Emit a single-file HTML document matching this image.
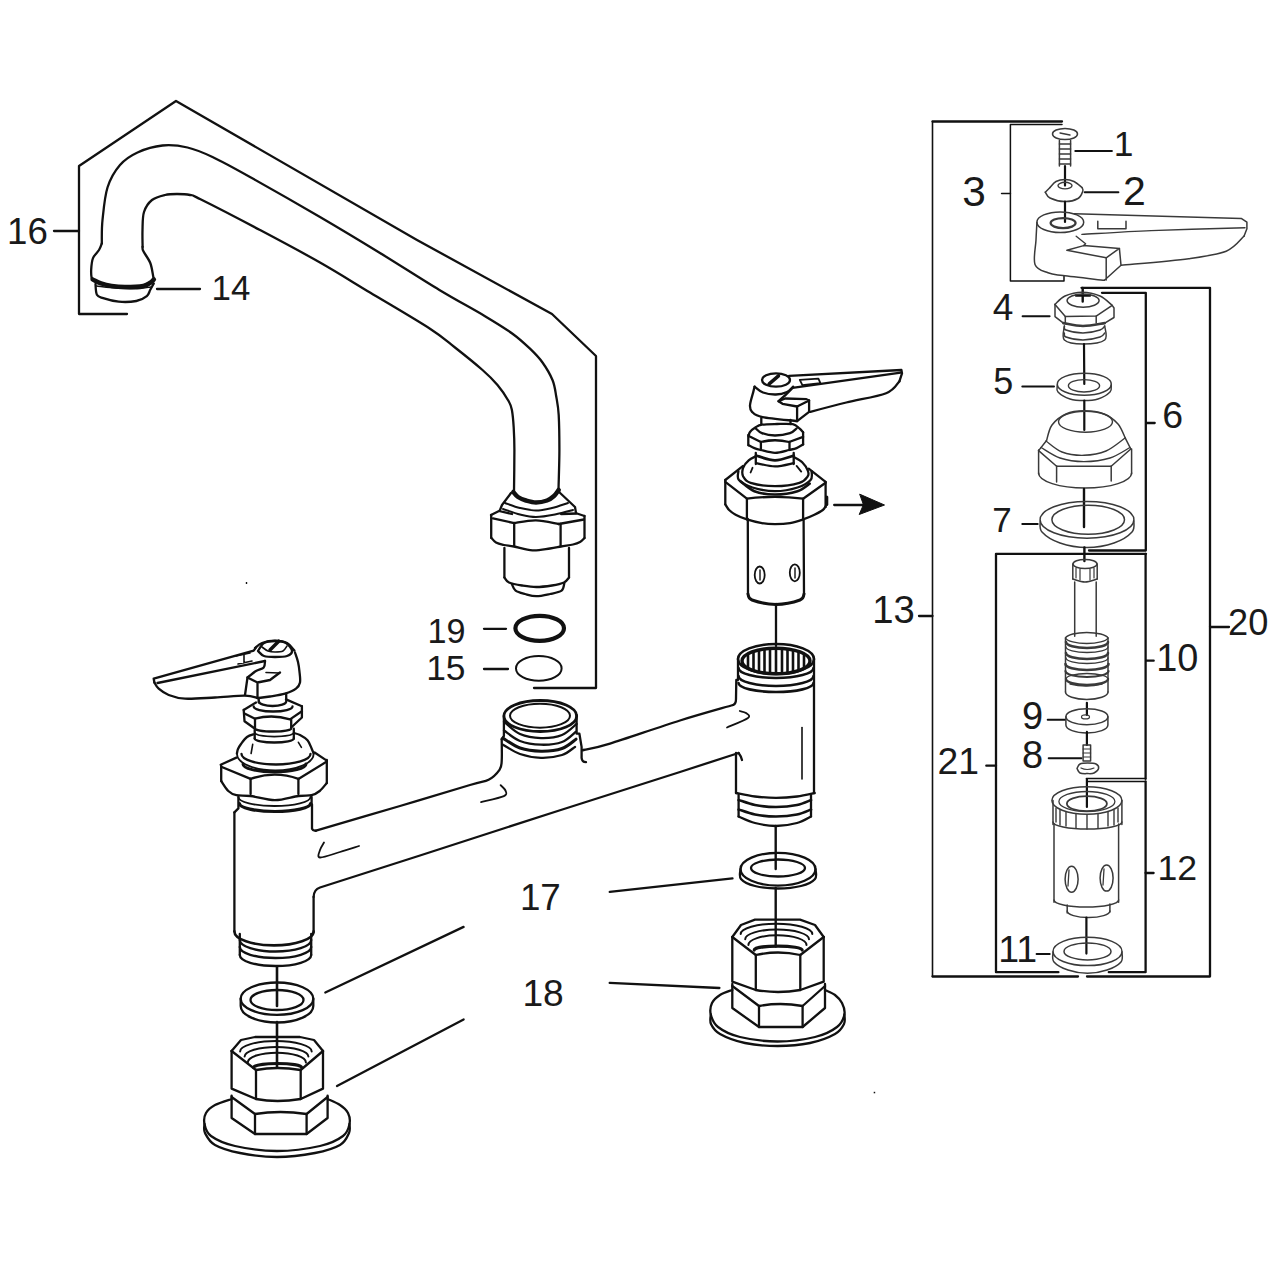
<!DOCTYPE html>
<html><head><meta charset="utf-8">
<style>
html,body{margin:0;padding:0;background:#fff;}
svg{display:block;}
text{font-family:"Liberation Sans",sans-serif;fill:#1a1a1a;stroke:none;}
</style></head><body>
<svg width="1280" height="1280" viewBox="0 0 1280 1280">
<rect width="1280" height="1280" fill="#fff"/>
<g fill="none" stroke="#111" stroke-width="2.3" stroke-linejoin="round" stroke-linecap="round">
<!-- ===== SPOUT 16 ===== -->
<path d="M127,314 L79,314 L79,166 L176,101 L417,240 L552,314 L596,356 L596,688 L534,688"/>
<path d="M54,231 L79,231"/>
<path d="M101.8,243.4 C101.9,239.5 101.5,229.3 102.5,220 C103.5,210.7 104.6,196.7 107.5,187.5 C110.4,178.3 115,170.8 120,165 C125,159.2 130.4,155.8 137.5,152.5 C144.6,149.2 154.2,146.3 162.5,145.5 C170.8,144.7 179.2,145.6 187.5,147.5 C195.8,149.4 202.1,152.1 212.5,157 C222.9,161.9 232.1,167 250,177 C267.9,187 298.3,204.3 320,217 C341.7,229.7 360.1,240.8 380,253 C399.9,265.2 421.9,279.5 439.4,290 C456.9,300.5 472.8,308.9 485,316.2 C497.2,323.5 505,328.3 512.5,333.7 C520,339.1 525,343.9 530,348.7 C535,353.5 538.8,357.3 542.5,362.5 C546.2,367.7 550.2,374.4 552.5,380 C554.8,385.6 555.2,390.4 556.2,396.2 C557.2,402 558.2,406 558.7,415 C559.2,424 559.4,437.5 559.4,450 C559.4,462.5 558.6,483.3 558.5,490"/>
<path d="M142.6,246.9 C142.6,244.1 142.3,235.8 142.5,230 C142.7,224.2 142.4,217 144,212 C145.6,207 148.5,202.8 152,200 C155.5,197.2 160.8,196 165,195 C169.2,194 172.8,194 177,194 C181.2,194 186.2,194.2 190,195 C193.8,195.8 188.3,193.2 200,199 C211.7,204.8 240,219.4 260,230 C280,240.6 301.7,252.1 320,262.5 C338.3,272.9 351.7,281.5 370,292.5 C388.3,303.5 415.8,319.5 430,328.7 C444.2,337.9 446.2,340.6 455,347.5 C463.8,354.4 475.4,363.8 482.5,370 C489.6,376.2 493.1,379.8 497.5,385 C501.9,390.2 506.3,397 508.7,401.2 C511.1,405.4 511.1,405.6 511.9,410 C512.7,414.4 513.3,420.8 513.7,427.5 C514.1,434.2 514.4,439.2 514.4,450 C514.4,460.8 514.1,485 514,492"/>
<path d="M101.8,243.4 C101.3,244.5 100.5,247.6 99,250 C97.5,252.4 94.3,254.9 93,258.1 C91.7,261.3 91.4,266.1 91.2,269.4 C91,272.7 91.3,276 91.6,277.8 C91.8,279.6 92.5,279.6 92.7,280"/>
<path d="M142.6,246.9 C142.7,247.6 142,248.4 143.3,251.1 C144.6,253.8 148.7,258.9 150.3,263 C151.9,267.1 152.5,272.9 153.1,275.7 C153.7,278.5 153.7,279.3 153.8,280"/>
<path d="M95.5,284 C95.7,285.8 95.6,292.3 96.9,294.7 C98.2,297.1 99.6,297 103.2,298.2 C106.8,299.4 113.2,301.2 118.7,301.7 C124.2,302.2 131.6,301.9 136.3,301 C141,300.1 144.5,298 146.8,296.1 C149.1,294.2 149.1,291.9 150.3,289.8 C151.5,287.7 153.2,284.5 153.8,283.4"/>
<path d="M96.5,286 C98.8,286.2 105.2,287.1 110,287.5 C114.8,287.9 120,288.3 125,288.5 C130,288.7 135.8,288.8 140,288.5 C144.2,288.2 148.8,287.2 150.5,287" stroke-width="1.4"/>
<path d="M92.7,279.5 C94.1,280.1 97.8,282.3 101,283.4 C104.2,284.5 107.6,285.4 111.6,286 C115.6,286.6 119.7,287 125,287 C130.3,287 139.1,286.7 143.3,286 C147.5,285.3 148.6,283.8 150.3,282.7 C152.1,281.6 153.2,280 153.8,279.5" stroke-width="4.6"/>
<path d="M157,289 L200,289"/>
<text x="7.0" y="243.6" font-size="36.7">16</text>
<text x="211.5" y="300.0" font-size="34.9">14</text>

<!-- spout nut -->
<path d="M513.3,492 C514.1,492.8 515.9,495.6 518,497 C520.1,498.4 523,499.6 526,500.5 C529,501.4 532.5,502.5 536,502.5 C539.5,502.5 544,501.6 547,500.5 C550,499.4 552,497.8 554,496 C556,494.2 557.9,491 558.7,490" stroke-width="4.5"/>
<path d="M511,493 L502,505 L500,510"/>
<path d="M558,491 L575,507 L576,513"/>
<path d="M505,503 C507.5,503.8 514.8,506.8 520,508 C525.2,509.2 530.7,510.5 536,510.5 C541.3,510.5 546.7,509.2 552,508 C557.3,506.8 565.3,503.8 568,503" stroke-width="2"/>
<path d="M503,509 C505.8,509.9 514.5,513.2 520,514.5 C525.5,515.8 530.2,517 536,517 C541.8,517 548.8,515.7 555,514.5 C561.2,513.3 570,510.8 573,510" stroke-width="2"/>
<path d="M491,515 L499,511 L512,514 M561,514 L577,513.5 L584.5,516"/>
<path d="M493,518.4 L514.2,523.1"/>
<path d="M514.2,523.1 C517.8,522.6 528.6,520.1 536,520.3 C543.4,520.4 554.9,523.4 558.7,524"/>
<path d="M558.7,524 L584,519.5"/>
<path d="M514.2,523 L514.2,546 M560.6,524 L560.6,546"/>
<path d="M491.2,515 L491.2,538 M584.5,516 L584.5,538"/>
<path d="M491.5,538 C492.2,538.8 493.9,541.3 496,542.5 C498.1,543.7 501,544.3 504,545 C507,545.7 509.2,545.6 514,546.5 C518.8,547.4 526.5,550 532.5,550.3 C538.5,550.6 545.2,549.1 550,548.5 C554.8,547.9 557.2,547.2 561,546.5 C564.8,545.8 569.8,545.2 573,544.5 C576.2,543.8 578.1,543.1 580,542 C581.9,540.9 583.8,538.7 584.5,538"/>
<path d="M504.4,548 L504.4,577.5 M569,548 L569,577.5"/>
<path d="M504.4,577.5 C505.2,578.3 506.1,581.2 509,582.5 C511.9,583.8 517.5,584.8 522,585.5 C526.5,586.2 531.2,587 536.2,587 C541.2,587 547.4,586.2 552,585.5 C556.6,584.8 561.2,583.8 564,582.5 C566.8,581.2 568.2,578.3 569,577.5"/>
<path d="M511.9,584 C512.5,585.1 513.4,588.9 515.6,590.6 C517.8,592.3 521.6,593.1 525,594 C528.4,594.9 532,596.2 536.2,596.2 C540.4,596.2 545.8,594.9 550,594 C554.2,593.1 559.2,592.4 561.6,590.6 C564,588.8 563.9,584.3 564.4,583"/>
<!-- ring 19 & washer 15 -->
<ellipse cx="539.7" cy="628.3" rx="24.3" ry="12.5" stroke-width="4.2"/>
<ellipse cx="538.8" cy="668.4" rx="22.8" ry="12.3" stroke-width="2"/>
<path d="M484,628.8 L506,628.8 M484,669 L508,669"/>
<text x="427.4" y="642.7" font-size="34.2">19</text>
<text x="426.2" y="680.3" font-size="35.4">15</text>

<!-- ===== LEFT VALVE ===== -->
<!-- lever -->
<path d="M154.4,682.5 C155.1,683.5 156.3,686.6 158.7,688.7 C161.1,690.8 164.3,693.3 168.7,695 C173.1,696.7 177.3,698.3 185,698.7 C192.7,699.1 205,698 215,697.5 C225,697 237.9,695.5 245,695.6 C252.1,695.7 255.4,697.6 257.5,698"/>
<path d="M153.7,678.7 L154.4,682.5 M153.7,678.7 L253.7,650.6 L256,647.5"/>
<path d="M157.5,683 L265,661"/>
<path d="M236,656 L250,653 M238,664 L252,661 M244,655 L244,663" stroke-width="1.6"/>
<!-- cap -->
<path d="M255,648 C256.2,647.2 258.7,644.2 262,643 C265.3,641.8 270.8,640.6 275,640.6 C279.2,640.6 283.8,641.3 287,643 C290.2,644.7 293.2,649.3 294.4,650.6"/>
<path d="M258,651 C259,651.8 261.2,655 264,656 C266.8,657 271.2,657 275,657 C278.8,657 284.2,657 287,656 C289.8,655 292.2,653.2 292,651 C291.8,648.8 288.8,644.7 286,643 C283.2,641.3 278.7,641 275,641 C271.3,641 266.8,641.3 264,643 C261.2,644.7 259,649.7 258,651"/>
<path d="M262,647 C263,647.7 265.8,650.2 268,651 C270.2,651.8 272.5,652 275,652 C277.5,652 281,652 283,651 C285,650 286.3,646.8 287,646" stroke-width="1.6"/>
<path d="M270,650 L278.7,641.2" stroke-width="3.5"/>
<!-- body -->
<path d="M295,652.5 C295.5,654.1 297.3,658.9 298,662 C298.7,665.1 299.1,667.6 299.4,671 C299.7,674.4 300.6,679.5 300,682.5 C299.4,685.5 298.5,686.8 296,688.7 C293.5,690.6 289.3,692.4 285,693.7 C280.7,695 274.4,695.8 270,696.5 C265.6,697.2 260.6,697.8 258.7,698"/>
<path d="M265,661 C264.8,662.1 265.2,665.8 263.7,667.5 C262.2,669.2 258.7,669.3 256,671 C253.3,672.7 248.9,676.4 247.5,677.5"/>
<path d="M247.5,677.5 L257.5,682.5 L270,680 L280,672.5 M247.5,677.5 L245,695 M257.5,682.5 L257.5,698"/>
<path d="M266,672.5 L279.4,673" stroke-width="1.6"/>
<!-- stem -->
<path d="M258.7,698 L258.7,702.5 M286.2,693.7 L286.2,700"/>
<path d="M259,701.5 A13.6,4.5 0 0 0 286.2,701.5"/>
<!-- small nut -->
<path d="M243.7,710 L256,702.5 M286,699.4 L301.9,706.2"/>
<path d="M253.7,706.5 A19.4,5 0 0 0 292.5,706.5"/>
<path d="M245,713.7 L255,718.7 M255,718.7 Q272.5,714 290,719.4 L301.9,711.2"/>
<path d="M243.7,710 L244.5,721.2 L255,728.7 M301.9,706.2 L301.9,717.5 L291.2,727.5"/>
<path d="M255,718.7 L255,728.7 M291.2,719.4 L291.2,727.5"/>
<path d="M255,728.5 A18.1,3 0 0 0 291.2,728.5"/>
<!-- collar -->
<path d="M254.7,730 L254.7,738.7 M293.8,728.7 L293.8,738.7"/>
<path d="M254.7,738.5 A19.55,4 0 0 0 293.8,738.5"/>
<path d="M255,733 A19.4,4 0 0 0 293.6,733" stroke-width="1.6"/>
<!-- dome -->
<path d="M254.7,734 C253.4,734.5 249.3,735.3 247,737 C244.7,738.7 242.5,742 241,744 C239.5,746 238.7,747.4 238,749 C237.3,750.6 237.1,752.8 236.9,753.5"/>
<path d="M293.8,733 C294.8,733.3 297.7,733.8 300,735 C302.3,736.2 305.6,738.1 307.5,740.3 C309.4,742.5 310.6,746.2 311.6,748.4 C312.6,750.6 313.3,752.6 313.6,753.5"/>
<path d="M241.5,754 A34.5,10.5 0 0 0 310.5,754"/>
<path d="M237,754 A38.3,16.5 0 0 0 313.6,754" stroke-width="1.8"/>
<path d="M243,764 A31.5,8 0 0 0 306,764" stroke-width="3"/>
<path d="M252.7,744.4 L251.1,753.5" stroke-width="1.6"/>
<path d="M298.4,742.3 L301.4,747.4" stroke-width="1.6"/>
<!-- big hex nut -->
<path d="M220.7,764.7 L236.4,757.6 M314.6,752.5 L326.8,760.6"/>
<path d="M221.2,766.7 L250.6,778.9"/>
<path d="M250.6,778.9 Q275,770.5 298.4,778.9"/>
<path d="M298.4,778.9 L326.8,761.6"/>
<path d="M250.6,779 L250.6,794 M298.4,779 L298.4,794"/>
<path d="M221.2,766 L221.2,781 M326.8,760 L326.8,783"/>
<path d="M221.2,781 C222.4,782.7 225.8,788.6 228.3,791 C230.8,793.4 232.7,794.4 236.4,795.2 C240.1,796 244.2,795.2 250.6,796 C257,796.8 267,800.2 275,800.2 C283,800.2 292.3,796.8 298.4,796 C304.5,795.2 308.1,796 311.6,795.2 C315.2,794.4 317.2,793 319.7,791 C322.2,789 325.6,784.3 326.8,783"/>
<!-- threads -->
<path d="M238.4,797 A36,9 0 0 0 310.5,797" stroke-width="1.8"/>
<path d="M239.5,803.5 A35.5,8 0 0 0 310.5,803.5" stroke-width="3.2"/>
<path d="M238.4,797 L238.4,808.4 L234.4,812.4 M311.6,797 L311.6,804.3"/>

<!-- ===== MAIN BODY ===== -->
<!-- left body verticals -->
<path d="M234.4,812.4 L234.4,931.6 M313.6,897 L313.6,932.7"/>
<path d="M312,804.3 L312,828.7 Q313,831 316,830.7"/>
<!-- crossbar upper edge left -> inlet -->
<path d="M316,830.7 C330,826.6 374.3,813.6 400,806 C425.7,798.4 455.2,789.4 470,785 C484.8,780.6 483.7,782.2 488.6,779.7 C493.5,777.2 497.3,772.9 499.5,769.8 C501.7,766.7 501.3,766.2 501.7,761.1 C502.1,756 501.7,742.9 501.7,739.2"/>
<!-- crossbar upper right of inlet -->
<path d="M582.7,750.2 C587.2,749.1 593.8,748.6 610,743.6 C626.2,738.6 659.5,726.9 680,720.5 C700.5,714.1 724.2,707.6 733,705"/>

<!-- lower crossbar line -->
<path d="M313.6,897 Q313.8,889.5 320,887.5 L420,855.5 L560.8,810 L680,772 L738.6,753"/>
<path d="M738.6,753 Q741,756 742,760"/>
<!-- highlights -->
<path d="M324,842.5 C323.3,843.8 320.7,847.5 320,850 C319.3,852.5 316.7,857.2 320,857.5 C323.3,857.8 333.5,853.9 340,852 C346.5,850.1 355.8,847 359,846" stroke-width="1.8"/>
<path d="M500.6,785.2 C501.4,786.1 504.9,788.8 505.5,790.6 C506.1,792.4 508,794.2 503.9,796.1 C499.8,798 484.8,801.1 481,802.1" stroke-width="1.8"/>
<path d="M727,727.5 C730.5,725.9 744.8,720.4 748,718 C751.2,715.6 747.4,714.2 746,713 C744.6,711.8 740.8,711.3 739.8,711" stroke-width="1.8"/>
<path d="M802,727.5 L802,779" stroke-width="1.6"/>
<!-- center inlet -->
<ellipse cx="540.3" cy="716" rx="36.4" ry="15.5" stroke-width="2.8"/>
<ellipse cx="540" cy="715.7" rx="30" ry="12" stroke-width="2"/>
<path d="M504,721.7 C506.7,723.8 513.8,731.3 520,734 C526.2,736.7 534,737.9 541,738.1 C548,738.3 556.1,737.4 562,735 C567.9,732.6 574.2,725.8 576.6,723.9"/>
<path d="M504,730.5 C506.7,732.2 513.8,738.6 520,741 C526.2,743.4 534,744.5 541,744.7 C548,744.9 556.2,744.2 562,742 C567.8,739.8 573.7,733.3 576,731.6"/>
<path d="M503,738.1 C505.8,739.8 513.7,745.8 520,748 C526.3,750.2 534,751.1 541,751.2 C548,751.3 556.2,750.5 562,748.5 C567.8,746.5 573.7,740.8 576,739.2" stroke-width="3"/>
<path d="M503,744.7 C505.8,746.2 513.7,751.8 520,754 C526.3,756.2 534,757.6 541,757.8 C548,758 556.3,756.8 562,755 C567.7,753.2 572.8,748.2 575,746.9"/>
<path d="M503.9,716 L503.9,736 L501.7,739.2 M576.6,715 L576.6,733.7 L579.4,733.7 L581.6,746.9 L581.6,757.8 Q582,762 586,762.2"/>
<path d="M582.7,750.2 L584,750"/>

<!-- ===== RIGHT VALVE ===== -->
<!-- cap -->
<ellipse cx="776" cy="380" rx="14" ry="6.7"/>
<path d="M769.2,383.9 L778.5,375.9" stroke-width="3.5"/>
<path d="M754.6,386.6 C756,387.6 759.5,391.2 763,392.5 C766.5,393.8 771.9,394.6 775.9,394.5 C779.9,394.4 784.1,393.3 787,392 C789.9,390.7 792.1,387.5 793.1,386.6"/>
<!-- body -->
<path d="M754.6,386.6 C754.4,387.5 754.1,388.8 753.3,391.9 C752.5,395 750.2,401.9 750,405.2 C749.8,408.5 749.9,409.8 752,411.8 C754.1,413.8 755.1,415.6 762.6,417.1 C770.1,418.7 791.4,420.4 797.1,421.1"/>
<path d="M797.1,421.1 L809.1,411.8"/>
<!-- lever -->
<path d="M789.1,375.9 L901.4,370 L902,373.3 L899.4,381.3"/>
<path d="M899.4,381.3 C897.2,383.3 895,389.7 886.1,393.2 C877.2,396.7 858.9,399.4 846.3,402.5 C833.7,405.6 816.4,410.2 810.4,411.8"/>
<path d="M792.5,387.9 L900.7,372.6"/>
<path d="M792.5,387.9 Q785,396 778.5,401.2"/>
<path d="M799.8,379.9 L818.4,378.6 L820.4,383.2 L802.4,385.2 Z" stroke-width="1.8"/>
<!-- block -->
<path d="M778.5,401.2 L785.2,398.5 L806.4,399.2 L809.1,400.5 L797.1,406.5 L782.5,403.8 Z"/>
<path d="M797.1,406.5 L797.1,421.1 M809.1,400.5 L809.1,411.8"/>
<!-- stem -->
<path d="M761.3,418 L761.3,423.7 M790.5,420 L790.5,424"/>
<!-- small nut -->
<path d="M748.7,436 C748.9,435.3 748.9,433.4 750,432 C751.1,430.6 753.3,428.7 755.3,427.5 C757.3,426.3 758.3,425.3 761.9,424.7 C765.5,424.1 771.9,424.1 777,424 C782.1,423.9 789.1,423.5 792.8,424.2 C796.5,424.9 797.7,427.1 799.4,428.4 C801.1,429.7 802.5,431.6 803.1,432.2"/>
<path d="M803.1,432.2 L803.1,444.4 M748.3,435 L748.3,445.3"/>
<path d="M755.3,428 C756.4,428.9 758.6,431.9 761.9,433.1 C765.2,434.4 770.3,435.5 775,435.5 C779.7,435.5 786.4,434.3 790,433.1 C793.6,431.9 795.5,429.2 796.6,428.4"/>
<path d="M748.7,436 L760.9,442 Q775,438.5 789.1,442 L803.1,436.9"/>
<path d="M760.9,442 L760.9,450 M789.5,442 L789.5,450"/>
<path d="M748.7,445.3 C749.7,445.8 752.4,447.3 754.4,448.1 C756.4,448.9 757.5,449.2 760.9,450 C764.3,450.8 770.3,452.8 775,452.8 C779.7,452.8 785.5,450.8 789.1,450 C792.7,449.2 794.3,449 796.6,448.1 C798.9,447.2 802,445 803.1,444.4"/>
<!-- collar -->
<path d="M755.8,452.8 L755.8,464 M793.7,452.8 L793.7,464"/>
<path d="M756.2,455.6 C759.3,456.4 768.8,460.3 775,460.3 C781.2,460.3 790.6,456.4 793.7,455.6" stroke-width="2.8"/>
<path d="M756.2,463.1 C759.3,463.7 768.8,466.4 775,466.4 C781.2,466.4 790.6,463.7 793.7,463.1"/>
<!-- dome -->
<path d="M793.7,457 C795.1,457.9 799.9,459.9 802.2,462.2 C804.6,464.5 806.9,468.3 807.8,470.6 C808.7,472.9 809.2,474.2 807.8,476.2 C806.4,478.2 804.9,481.1 799.4,482.8 C793.9,484.5 783.1,486.1 775,486.1 C766.9,486.1 755.9,484.5 750.6,482.8 C745.3,481.1 744.4,478.7 743.1,476.2 C741.9,473.7 742.2,470.4 743.1,467.8 C744,465.2 746.5,462.2 748.7,460.3 C750.9,458.4 755,456.8 756.2,456.1"/>
<path d="M738.4,471.1 C738.5,472.6 736.5,477.3 738.9,480 C741.2,482.7 746.5,485.6 752.5,487.5 C758.5,489.4 767.5,491.2 775,491.2 C782.5,491.2 791.6,489.4 797.5,487.5 C803.4,485.6 808.2,482.7 810.6,480 C813,477.3 811.4,472.6 811.6,471.1"/>
<path d="M740.3,481 C742.6,482.7 748.6,488.9 754.4,491.2 C760.2,493.4 767.8,494.5 775,494.5 C782.2,494.5 791.7,493 797.5,491.2 C803.3,489.4 807.7,484.9 809.7,483.7" stroke-width="2.6"/>
<path d="M752.5,467.8 L750.6,472.5 M796.6,465.9 L801.2,471.6" stroke-width="1.8"/>
<!-- big hex nut -->
<path d="M725.3,480 L743.1,465.9 M808.7,468.7 L825.6,481.9"/>
<path d="M725.3,481.9 L746.9,498.7 Q775,495 803.1,498.7 L825.6,482.8"/>
<path d="M746.9,498.7 L746.9,519.4 M803.1,498.7 L803.1,519.4"/>
<path d="M725.3,480 L725.3,504.4 M825.6,481.9 L825.6,507.2"/>
<path d="M826.8,497 L826.8,504.4" stroke-width="3"/>
<path d="M725.3,504.4 C725.9,505.3 727.4,508.3 729.1,510 C730.8,511.7 732.6,513.1 735.6,514.7 C738.6,516.3 742.5,518 746.9,519.4 C751.3,520.8 757.2,522.3 761.9,523.1 C766.6,523.9 770.3,524.1 775,524.1 C779.7,524.1 785.3,523.9 790,523.1 C794.7,522.3 799,520.8 803.1,519.4 C807.2,518 811.1,516.3 814.4,514.7 C817.7,513.1 820.9,511.4 822.8,510 C824.7,508.6 825.1,506.8 825.6,506.2"/>
<!-- cartridge -->
<path d="M747.8,519 L748,594 M803.6,519 L804,594"/>
<path d="M748,594 C748.7,595 747.3,598.3 752,600 C756.7,601.7 768,604.4 776,604.4 C784,604.4 795.3,601.7 800,600 C804.7,598.3 803.3,595 804,594" stroke-width="3"/>
<ellipse cx="759.7" cy="575" rx="5" ry="8.5" stroke-width="1.8"/>
<ellipse cx="794.8" cy="572.8" rx="5" ry="8.5" stroke-width="1.8"/>
<path d="M760,570 L760,580 M795,568 L795,578" stroke-width="1.4"/>
<!-- arrow -->
<path d="M834.2,505 L864,505"/>
<path d="M860,494.3 L884.5,505 L859.2,514.5 L863.3,505 Z" fill="#111" stroke-width="1"/>
<!-- centerline -->
<path d="M776,604 L776,646"/>
<!-- right body -->
<defs><clipPath id="cpR"><ellipse cx="776" cy="661" rx="33" ry="12"/></clipPath></defs>
<g clip-path="url(#cpR)" stroke-width="2.6">
<path d="M748,645 L748,680 M753.5,645 L753.5,680 M759,645 L759,680 M764.5,645 L764.5,680 M770,645 L770,680 M776,640 L776,680 M782,645 L782,680 M787.5,645 L787.5,680 M793,645 L793,680 M798.5,645 L798.5,680 M804,645 L804,680"/>
</g>
<ellipse cx="776" cy="659" rx="38" ry="15" stroke-width="2.6"/>
<ellipse cx="776" cy="661" rx="34" ry="12.8" stroke-width="3.4"/>
<path d="M738.5,668 A37.5,10 0 0 0 813.5,668" stroke-width="2.6"/>
<path d="M738.5,676 A37.5,10 0 0 0 813.5,676" stroke-width="2.6"/>
<path d="M738.5,683 A37.5,9 0 0 0 813.5,683" stroke-width="2.6"/>
<path d="M738,659 L738,680 L736.3,680 L736,699 Q736,704 733,705"/>
<path d="M814,659 L814,793"/>
<path d="M736,753 L736,793"/>
<path d="M736,793 C739.2,793.6 748.3,795.7 755,796.5 C761.7,797.3 769,797.8 776,797.8 C783,797.8 790.5,797.3 797,796.5 C803.5,795.7 811.8,793.6 814.7,793"/>
<path d="M738.6,800 C741.3,800.8 748.8,803.8 755,805 C761.2,806.2 769,807 776,807 C783,807 791.2,806.2 797,805 C802.8,803.8 808.7,800.8 811,800" stroke-width="2.6"/>
<path d="M738.6,809.5 C741.3,810.3 748.8,813.3 755,814.5 C761.2,815.7 769,816.5 776,816.5 C783,816.5 791.2,815.7 797,814.5 C802.8,813.3 808.7,810.3 811,809.5" stroke-width="2.6"/>
<path d="M738.6,816.5 C741.3,817.6 748.8,821.4 755,823 C761.2,824.6 769,826 776,826 C783,826 791.2,824.6 797,823 C802.8,821.4 808.7,817.6 811,816.5"/>
<path d="M738.6,795 L738.6,816.5 M811,795 L811,816.5"/>

<!-- ===== LEFT BOTTOM ===== -->
<path d="M234.4,931.4 A39.6,14 0 0 0 313.6,931.4" stroke-width="2.6"/>
<path d="M239.8,940 A35.7,11.5 0 0 0 311.2,940" stroke-width="2.4"/>
<path d="M239.8,947 A35.7,11 0 0 0 311.2,947" stroke-width="2.4"/>
<path d="M239.8,955 A35.7,11 0 0 0 311.2,955"/>
<path d="M239.8,934 L239.8,955 M311.2,934 L311.2,955"/>
<path d="M277,967 L277,1006" stroke-width="2.6"/>
<!-- washer -->
<ellipse cx="277" cy="998.7" rx="36.3" ry="16.2"/>
<ellipse cx="277" cy="1000" rx="26.5" ry="10"/>
<path d="M240.7,998.7 L240.7,1006 A36.3,16.5 0 0 0 313.3,1006 L313.3,998.7"/>
<path d="M277,1022 L277,1067" stroke-width="2.6"/>
<!-- nut -->
<path d="M231.6,1051 L241,1040 L255,1037 L300,1037 L314,1040 L323,1051"/>
<g id="thrL">
<path d="M240.1,1051.4 A35.8,10.3 0 0 1 311.7,1051.4" stroke-width="2"/>
<path d="M244.6,1056.6 A31.9,9.7 0 0 1 308.4,1056.6" stroke-width="2"/>
<path d="M247.8,1062.4 A29,9.7 0 0 1 305.9,1062.4" stroke-width="2"/>
<path d="M253.6,1067.5 A24,4 0 0 1 301.6,1067.5" stroke-width="3.2"/>
</g>
<path d="M231.6,1051 L256,1070 Q277,1066 300.7,1070 L323,1051"/>
<path d="M256,1070 L256,1099 M300.7,1070 L300.7,1099"/>
<path d="M231.6,1051 L231.6,1088.6 L256,1099 Q277,1103 300.7,1099 L323,1088.6 L323,1051"/>
<!-- base hex -->
<path d="M231.6,1095.6 L231.6,1118 L255,1134 L306.6,1134 L327.6,1118 L327.6,1095.6"/>
<path d="M255,1114 L255,1134 M306.6,1114 L306.6,1134"/>
<path d="M231.6,1097 L255,1114 Q280,1110 306.6,1114 L327.6,1097"/>
<!-- flange -->
<path d="M231.6,1099 C228.8,1100 219.3,1102.7 215,1105 C210.7,1107.3 207.8,1109.8 206,1113 C204.2,1116.2 203.7,1120.2 204.5,1124 C205.3,1127.8 205.9,1132.3 211,1136 C216.1,1139.7 224,1143.5 235,1146 C246,1148.5 262.8,1151 277,1151 C291.2,1151 309,1148.5 320,1146 C331,1143.5 338.1,1139.7 343,1136 C347.9,1132.3 348.7,1127.8 349.5,1124 C350.3,1120.2 349.6,1116.2 348,1113 C346.4,1109.8 343.4,1107.3 340,1105 C336.6,1102.7 329.7,1100 327.6,1099"/>
<path d="M204.5,1124 C204.6,1125.5 203.2,1129.5 205,1133 C206.8,1136.5 209.2,1141.7 215,1145 C220.8,1148.3 229.7,1151 240,1153 C250.3,1155 264.5,1157 277,1157 C289.5,1157 304.5,1155 315,1153 C325.5,1151 334.3,1148.3 340,1145 C345.7,1141.7 347.4,1136.5 349,1133 C350.6,1129.5 349.4,1125.5 349.5,1124"/>
<!-- leaders/center lines -->
<path d="M325.3,992.5 L463.6,926.9"/>
<path d="M337,1086 L463.6,1019.4"/>
<!-- ===== RIGHT BOTTOM ===== -->
<path d="M775.7,826 L775.7,869" stroke-width="2.4"/>
<ellipse cx="778" cy="869.2" rx="37.5" ry="16.4"/>
<ellipse cx="778" cy="868" rx="27" ry="8.5"/>
<path d="M740.5,869.2 C740.6,870.8 738.6,876.2 741,879 C743.4,881.8 748.8,884.4 755,886 C761.2,887.6 770.3,888.5 778,888.5 C785.7,888.5 794.8,887.6 801,886 C807.2,884.4 812.6,881.8 815,879 C817.4,876.2 815.4,870.8 815.5,869.2"/>
<path d="M775.7,888 L775.7,946.6" stroke-width="2.4"/>
<!-- nut -->
<path d="M732.3,937 L741,925 L755,919.6 L800,919.6 L815,925 L823.7,937"/>
<use href="#thrL" transform="translate(500.6,-117.4)"/>
<path d="M732.3,937 L755.8,955 Q778,950 800.3,955 L823.7,937"/>
<path d="M755.8,955 L755.8,990 M800.3,955 L800.3,990"/>
<path d="M732.3,937 L732.3,981.7 L755.8,990 Q778,994 800.3,990 L823.7,981.7 L823.7,937"/>
<!-- base hex -->
<path d="M732.3,984 L732.3,1008 L759,1027 L802.6,1027 L825,1008 L825,984"/>
<path d="M759,1006 L759,1027 M802.6,1006 L802.6,1027"/>
<path d="M732.3,986 L759,1006 Q780,1002 802.6,1006 L825,986"/>
<!-- flange -->
<path d="M732.3,990 C730.2,990.8 723.4,992.8 720,995 C716.6,997.2 713.5,999.8 712,1003 C710.5,1006.2 709.8,1010.5 710.8,1014.5 C711.8,1018.5 713.1,1023.2 718,1027 C722.9,1030.8 730.1,1034.6 740,1037 C749.9,1039.4 765.1,1041.5 777.6,1041.5 C790.1,1041.5 805.1,1039.4 815,1037 C824.9,1034.6 832.1,1030.8 837,1027 C841.9,1023.2 843.6,1018.5 844.4,1014.5 C845.2,1010.5 843.6,1006.2 842,1003 C840.4,999.8 837.8,997.2 835,995 C832.2,992.8 826.7,990.8 825,990"/>
<path d="M710.8,1014.5 C710.8,1016.1 709.5,1020.8 711,1024 C712.5,1027.2 714.3,1030.8 720,1034 C725.7,1037.2 735.4,1041 745,1043 C754.6,1045 766.8,1046 777.6,1046 C788.4,1046 800.4,1045 810,1043 C819.6,1041 829.3,1037.2 835,1034 C840.7,1030.8 842.4,1027.2 844,1024 C845.6,1020.8 844.3,1016.1 844.4,1014.5"/>
<!-- leaders 17/18 -->
<path d="M609.7,891.9 L732.5,878.4"/>
<path d="M609.7,982.8 L719.4,988"/>
<text x="519.9" y="909.7" font-size="36.8">17</text>
<text x="522.4" y="1005.9" font-size="37.2">18</text>

<!-- ===== RIGHT PANEL BRACKETS ===== -->
<path d="M1062,121.5 L932.5,121.5 M932.5,976.5 L1078,976.5 M1087,976.5 L1210,976.5 L1210,287.8 L1081.5,287.8"/>
<path d="M932.5,121.5 L932.5,976.5" stroke-width="1.6"/>
<path d="M919,616 L932.5,616 M1210,627 L1229,627"/>
<path d="M1062,124.6 L1010.4,124.6 L1010.4,281 L1064,281 L1064,276" stroke-width="1.5"/>
<path d="M1001.6,193.5 L1010.4,193.5" stroke-width="1.6"/>
<path d="M1102,292.8 L1145.8,292.8 L1145.8,550.5 L1089,550.5 M1145.8,423 L1154.7,423"/>
<path d="M1146,553.8 L996,553.8 L996,972.2 L1058.4,972.2 M1108.8,972.2 L1145.6,972.2 L1145.6,781.5"/>
<path d="M1145.6,781.5 L1086.9,781.5" stroke-width="1.5"/>
<path d="M986.3,765.7 L996,765.7 M1145.6,873 L1153.6,873"/>
<path d="M1145.6,553.8 L1145.6,778.9 M1145.6,660.7 L1153.7,660.7"/>
<path d="M1145.6,778.6 L1086.4,778.6" stroke-width="1.5"/>
<!-- leaders -->
<path d="M1075.3,151 L1111.9,151 M1084.7,192.2 L1118.4,192.2 M1022.6,316.3 L1049.6,316.3 M1022.3,386.4 L1054,386.4 M1022.3,524 L1037.7,524 M1047.7,719.8 L1065,719.8 M1048.7,758.2 L1081.5,758.2 M1036.6,954 L1049.7,954" stroke-width="2"/>
<!-- labels -->
<text x="1113.7" y="155.6" font-size="35.4">1</text>
<text x="1122.9" y="204.7" font-size="41.0">2</text>
<text x="962.2" y="205.7" font-size="42.4">3</text>
<text x="992.8" y="319.5" font-size="37.1">4</text>
<text x="993.3" y="394.1" font-size="36.0">5</text>
<text x="1162.3" y="428.2" font-size="37.5">6</text>
<text x="992.3" y="532.4" font-size="35.1">7</text>
<text x="872.2" y="622.6" font-size="38.3">13</text>
<text x="1228.1" y="634.8" font-size="36.2">20</text>
<text x="1156.3" y="670.5" font-size="37.9">10</text>
<text x="1022.1" y="729.0" font-size="38.0">9</text>
<text x="937.6" y="774.2" font-size="37.3">21</text>
<text x="1022.1" y="767.7" font-size="38.0">8</text>
<text x="1157.5" y="879.7" font-size="35.7">12</text>
<text x="998.2" y="961.7" font-size="37.5">11</text>

<!-- ===== PANEL PARTS ===== -->
<g stroke-width="1.5" stroke="#3a3a3a">
<!-- screw 1 -->
<ellipse cx="1065" cy="134" rx="12.5" ry="5.6"/>
<path d="M1060,133 L1070,135" stroke-width="1.3"/>
<path d="M1059.4,140.6 L1059.4,166 M1070.6,140.6 L1070.6,166"/>
<path d="M1059.4,144 L1070.6,144 M1059.4,149 L1070.6,149 M1059.4,154 L1070.6,154 M1059.4,159 L1070.6,159 M1059.4,164 L1070.6,164" stroke-width="1.4"/>
<path d="M1065,166 L1065,185.6" stroke-width="2.2" stroke="#111"/>
<!-- washer 2 -->
<path d="M1050,187.5 C1051,186.5 1053.5,182.8 1056,181.5 C1058.5,180.2 1062,179.6 1065,179.6 C1068,179.6 1071.2,180.2 1074,181.5 C1076.8,182.8 1080.7,186.5 1082,187.5"/>
<path d="M1045.3,192.2 C1046.1,193.2 1046.7,196.4 1050,198 C1053.3,199.6 1060.3,201.5 1065,201.6 C1069.7,201.7 1075,200.2 1078,198.5 C1081,196.8 1082.1,193 1082.8,191.2 C1083.5,189.4 1082.1,188.1 1082,187.5"/>
<path d="M1045.3,192.2 L1050,187.5"/>
<ellipse cx="1065" cy="185.6" rx="7" ry="3.3" stroke-width="1.4"/>
<path d="M1065,201.6 L1065,222" stroke-width="2.2" stroke="#111"/>
<!-- handle 3 -->
<ellipse cx="1060.3" cy="222.2" rx="23.4" ry="10.3"/>
<ellipse cx="1063.1" cy="223.1" rx="12.5" ry="5" stroke-width="2.2"/>
<path d="M1036.9,222.5 C1036.8,225.4 1036.3,233 1036,240 C1035.7,247 1033,258.9 1035,264.4 C1037,269.9 1043.3,270.9 1048,272.8 C1052.7,274.7 1053.6,274.4 1063,275.6 C1072.4,276.9 1097.5,279.5 1104.4,280.3"/>
<path d="M1074.4,213.7 L1241.2,218.4 L1246.9,222.2 L1246.9,228.7 L1244,236.2"/>
<path d="M1244,236.2 C1241,238.7 1235.4,247.4 1226.2,251.2 C1217,254.9 1206.2,256.3 1188.7,258.7 C1171.2,261.1 1132.5,264.2 1121.2,265.3"/>
<path d="M1081.9,234.4 C1093.5,233.8 1124,231.7 1151.2,230.6 C1178.4,229.5 1229.4,228.3 1245,227.8" stroke-width="1.4"/>
<path d="M1097.8,221.2 L1097.8,228.7 L1126,228.7 L1126,221.2"/>
<path d="M1066.9,250.3 L1083.7,245.6 L1119.4,248.4 L1106.2,257.8 Z"/>
<path d="M1106.2,257.8 L1106.2,280 M1119.4,248.4 L1121,265.3 L1104.4,280.3"/>
<path d="M1076.2,236.2 L1085.6,243.7 L1083.7,245.6" stroke-width="1.4"/>
<!-- nut 4 -->
<path d="M1082.7,288 L1082.7,301.6 M1076,295.5 L1090,295.5" stroke-width="2.4" stroke="#111"/>
<path d="M1055,304.4 C1056.7,303 1060.5,298 1065,296 C1069.5,294 1076.4,292.2 1082.2,292.2 C1088,292.2 1095,293.8 1100,296 C1105,298.2 1110.2,303.8 1112.2,305.3"/>
<ellipse cx="1083.1" cy="300.6" rx="16" ry="6.6"/>
<path d="M1055,304.4 L1065.3,316.6 L1096.2,316.1 L1112.2,305.3 L1114,308 L1114,317.5 L1104.7,323.1"/>
<path d="M1055,304.4 L1055,316.6 L1063.4,323.1"/>
<path d="M1065.3,316.6 L1065.3,323 M1096.2,316.1 L1096.2,323"/>
<path d="M1063.4,323.1 C1066.7,323.6 1076.1,326 1083,326 C1089.9,326 1101.1,323.6 1104.7,323.1" stroke-width="2.6"/>
<path d="M1064.4,326 C1064.7,326.7 1062.9,328.8 1066,330 C1069.1,331.2 1077.3,333 1083,333 C1088.7,333 1096.4,331.2 1100,330 C1103.6,328.8 1103.9,326.7 1104.7,326"/>
<path d="M1064.4,333 C1064.7,333.7 1062.9,335.8 1066,337 C1069.1,338.2 1077.3,340 1083,340 C1088.7,340 1096.4,338.2 1100,337 C1103.6,335.8 1103.9,333.7 1104.7,333"/>
<path d="M1064.4,326 C1064.4,328.3 1061.3,337 1064.4,340 C1067.5,343 1076.3,344 1083,344 C1089.7,344 1101.1,343 1104.7,340 C1108.3,337 1104.7,328.3 1104.7,326"/>
<path d="M1084,344 L1084.3,384" stroke-width="2.2" stroke="#111"/>
<!-- washer 5 -->
<ellipse cx="1084.3" cy="384.2" rx="27" ry="11"/>
<ellipse cx="1084" cy="385.8" rx="15.6" ry="6.2" stroke-width="1.4"/>
<path d="M1057.3,385 C1057.4,386.2 1055.9,389.7 1058,392 C1060.1,394.3 1065.7,397.6 1070,399 C1074.3,400.4 1079.3,400.6 1084,400.6 C1088.7,400.6 1093.7,400.4 1098,399 C1102.3,397.6 1107.8,394.3 1110,392 C1112.2,389.7 1111,386.2 1111.2,385"/>
<path d="M1084.3,400.6 L1084.3,430" stroke-width="2.2" stroke="#111"/>
<!-- cap nut 6 -->
<path d="M1046.4,441.2 C1047.3,438.5 1048.7,429.5 1052,425 C1055.3,420.5 1060.7,416.4 1066,414 C1071.3,411.6 1077.7,410.8 1084,410.8 C1090.3,410.8 1098.3,411.8 1104,414 C1109.7,416.2 1114.5,420 1118,424 C1121.5,428 1124.1,435.8 1125.3,438.1"/>
<ellipse cx="1085.5" cy="421.7" rx="27" ry="10.5" stroke-width="1.4"/>
<path d="M1046,441 C1048.7,442.8 1055.7,449.6 1062,452 C1068.3,454.4 1076.7,455.5 1084,455.3 C1091.3,455.1 1099.2,453.9 1106,451 C1112.8,448.1 1121.8,440.2 1125,438" stroke-width="1.4"/>
<path d="M1041,447.5 C1044.2,449.2 1052.8,455.6 1060,458 C1067.2,460.4 1075.7,461.6 1084,461.6 C1092.3,461.6 1102.3,460.4 1110,458 C1117.7,455.6 1126.7,449.2 1130,447.5" stroke-width="1.4"/>
<path d="M1038.6,450.6 L1046,441.2 M1125.3,438.1 L1130.8,449"/>
<path d="M1038.6,450.6 L1056.6,466.2 L1111.2,466.2 L1130.8,449"/>
<path d="M1056.6,466 L1056.6,481.9 M1111.2,466 L1111.2,481.1 M1038.6,450 L1038.6,474 M1131.6,449 L1131.6,474"/>
<path d="M1038.6,473 A46.5,15 0 0 0 1131.6,473"/>
<path d="M1084,489 L1084,527" stroke-width="2.4" stroke="#111"/>
<!-- washer 7 -->
<ellipse cx="1087" cy="519.8" rx="46.9" ry="18.4"/>
<ellipse cx="1088.2" cy="519.8" rx="36.3" ry="14.5"/>
<path d="M1040.2,520.9 C1040.5,522.8 1038.7,528.3 1042,532 C1045.3,535.7 1052.5,540.4 1060,543 C1067.5,545.6 1078,547.5 1087,547.5 C1096,547.5 1106.5,545.6 1114,543 C1121.5,540.4 1128.7,535.7 1132,532 C1135.3,528.3 1133.6,522.8 1133.9,520.9"/>
<path d="M1084.4,547.5 L1084.4,561" stroke-width="2.4" stroke="#111"/>
<!-- stem 10 -->
<ellipse cx="1085" cy="564" rx="12" ry="4.5"/>
<path d="M1072.8,564 L1072.8,579 M1097.2,564 L1097.2,579"/>
<path d="M1072.8,579 C1074.8,579.5 1080.9,582 1085,582 C1089.1,582 1095.2,579.5 1097.2,579"/>
<path d="M1076,568 L1076,578 M1080,569 L1080,580 M1090,569 L1090,580 M1094,568 L1094,578" stroke-width="1.2"/>
<path d="M1074.7,582 L1074.7,636.2 M1096.2,582 L1096.2,636.2"/>
<path d="M1065.5,638 A21.5,6.5 0 0 1 1108,638"/>
<path d="M1065.5,638 A21.5,6.5 0 0 0 1108,638" stroke-width="1.3"/>
<path d="M1066,642 A21,6 0 0 0 1108,642" stroke-width="2.6"/>
<path d="M1066,647 A21,5.5 0 0 0 1108,647" stroke-width="1.3"/>
<path d="M1066,653 A21,6 0 0 0 1108,653" stroke-width="2.6"/>
<path d="M1066,658 A21,5.5 0 0 0 1108,658" stroke-width="1.3"/>
<path d="M1065.5,664 A21.5,6 0 0 0 1108.5,664" stroke-width="2.6"/>
<path d="M1065.5,671 A21.5,6 0 0 0 1108.5,671" stroke-width="2.2"/>
<path d="M1066,679 A21,5.5 0 0 1 1108,679" stroke-width="1.3"/>
<path d="M1066,679 A21,6 0 0 0 1108,679" stroke-width="2.4"/>
<path d="M1070,684 Q1086,688 1102,684" stroke-width="1.3"/>
<path d="M1065.5,638 L1065.5,692 M1108,638 L1108,692"/>
<path d="M1065.5,692 A21.25,7.5 0 0 0 1108,692"/>
<path d="M1086.9,702.8 L1086.9,715" stroke-width="2.2" stroke="#111"/>
<!-- washer 9 -->
<ellipse cx="1086.9" cy="716.7" rx="21" ry="8"/>
<path d="M1065.9,716.7 L1065.9,725 A21,8 0 0 0 1107.9,725 L1107.9,716.7"/>
<ellipse cx="1085.5" cy="716.9" rx="4" ry="2" stroke-width="1.2"/>
<path d="M1086.9,731.9 L1086.9,745" stroke-width="2.2" stroke="#111"/>
<!-- screw 8 -->
<rect x="1083.1" y="745" width="7.5" height="16"/>
<path d="M1083.1,749 L1090.6,749 M1083.1,753 L1090.6,753 M1083.1,757 L1090.6,757" stroke-width="1.2"/>
<path d="M1077,768.4 C1077.5,767.7 1078.2,764.9 1080,764 C1081.8,763.1 1085.1,763 1087.8,763 C1090.5,763 1094.2,763.1 1096,764 C1097.8,764.9 1098.9,766.9 1098.6,768.4 C1098.3,769.9 1095.8,772.1 1094,773 C1092.2,773.9 1090.1,773.6 1087.8,773.6 C1085.5,773.6 1081.8,773.9 1080,773 C1078.2,772.1 1077.5,769.2 1077,768.4"/>
<path d="M1081,768 Q1087,771 1094,768" stroke-width="1.2"/>
<path d="M1086.9,779 L1086.9,807" stroke-width="2.2" stroke="#111"/>
<!-- cartridge 12 -->
<ellipse cx="1086.9" cy="800.5" rx="35" ry="13.7"/>
<ellipse cx="1086.9" cy="803.7" rx="20" ry="7.5" stroke-width="1.8"/>
<ellipse cx="1086.9" cy="801.5" rx="28" ry="10" stroke-width="1.3"/>
<path d="M1053,800.5 L1053,824.5 M1121.9,800.5 L1121.9,824.5"/>
<path d="M1053,822 A34.45,7 0 0 0 1121.9,822"/>
<path d="M1056,808 L1056,822 M1060,810 L1060,825 M1066,812 L1066,826 M1076,814 L1076,828 M1087,815 L1087,829 M1098,814 L1098,828 M1108,812 L1108,826 M1114,810 L1114,825 M1118,808 L1118,822" stroke-width="1.4"/>
<path d="M1054,824 L1054,902.2 M1118.6,824 L1118.6,902.2"/>
<path d="M1054,900 A32.3,7 0 0 0 1118.6,900"/>
<ellipse cx="1071.6" cy="879.2" rx="6.5" ry="13"/>
<ellipse cx="1106.6" cy="878.1" rx="6.5" ry="13"/>
<path d="M1069,870 L1068,886 M1104,869 L1103,885" stroke-width="1.3"/>
<path d="M1067.2,905 L1067.2,913 M1109.9,904 L1109.9,912"/>
<path d="M1067.2,911 A21.35,6.5 0 0 0 1109.9,911"/>
<path d="M1086.4,917.5 L1086.4,953.6" stroke-width="2.2" stroke="#111"/>
<!-- washer 11 -->
<ellipse cx="1087.5" cy="951.4" rx="34.5" ry="14.2"/>
<ellipse cx="1087.5" cy="951.4" rx="23.5" ry="8.5"/>
<path d="M1053,952 C1053.2,953.7 1051.5,959 1054,962 C1056.5,965 1062.4,968.1 1068,970 C1073.6,971.9 1081,973.3 1087.5,973.3 C1094,973.3 1101.4,971.9 1107,970 C1112.6,968.1 1118.5,965 1121,962 C1123.5,959 1121.8,953.7 1122,952"/>
</g>

<rect x="245.8" y="582" width="1.4" height="2" fill="#111" stroke="none"/>
<rect x="873.7" y="1091.8" width="1.5" height="1.5" fill="#111" stroke="none"/>

</g>
</svg>
</body></html>
